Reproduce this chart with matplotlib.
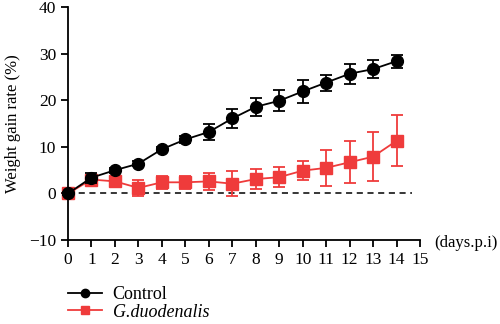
import matplotlib
matplotlib.use("Agg")
import matplotlib.pyplot as plt
from matplotlib.lines import Line2D
from matplotlib.font_manager import FontProperties

plt.rcParams['font.family'] = ['Liberation Serif', 'DejaVu Serif']

days = list(range(15))
control_mean = [0.0, 3.4, 5.0, 6.4, 9.5, 11.6, 13.2, 16.1, 18.6, 19.9, 21.9, 23.8, 25.7, 26.7, 28.4]
control_err = [0.3, 1.1, 0.5, 0.5, 0.5, 0.7, 1.7, 2.0, 2.0, 2.3, 2.4, 1.7, 2.1, 2.0, 1.4]
giardia_mean = [0.0, 3.0, 2.6, 1.2, 2.4, 2.4, 2.6, 2.1, 3.1, 3.5, 4.9, 5.5, 6.7, 7.9, 11.3]
giardia_err = [0.3, 0.5, 0.5, 1.8, 1.4, 1.4, 1.9, 2.7, 2.2, 2.2, 2.1, 3.8, 4.5, 5.2, 5.5]

red = '#ef3b3b'

fig = plt.figure(figsize=(5.0, 3.24), dpi=100)
ax = fig.add_axes([0.136, 0.259, 0.704, 0.719])

ax.plot([0, 14.65], [0, 0], ls=(0, (4, 3)), color='black', lw=1.1, zorder=1)

ax.errorbar(days, giardia_mean, yerr=giardia_err, color=red, ecolor=red,
            marker='s', markersize=8, lw=1.3, elinewidth=1.3, capsize=4.5,
            capthick=1.3, zorder=2, clip_on=False)
ax.errorbar(days, control_mean, yerr=control_err, color='black', ecolor='black',
            marker='o', markersize=8.5, lw=1.3, elinewidth=1.3, capsize=4.5,
            capthick=1.3, zorder=3, clip_on=False)

ax.set_xlim(0, 15)
ax.set_ylim(-10, 40)
ax.set_xticks(range(0, 16))
ax.set_yticks([-10, 0, 10, 20, 30, 40])
ax.set_yticklabels(['\u221210', '0', '10', '20', '30', '40'])
ax.tick_params(labelsize=12.5, width=1.3, length=5, direction='out', color='black')
ax.spines['top'].set_visible(False)
ax.spines['right'].set_visible(False)
ax.spines['left'].set_linewidth(1.3)
ax.spines['bottom'].set_linewidth(1.3)
ax.set_ylabel('Weight gain rate (%)', fontsize=12, labelpad=6)

ax.text(15.62, -10.6, '(days.p.i)', fontsize=12, ha='left', va='center',
        clip_on=False)

handles = [
    Line2D([], [], color='black', marker='o', markersize=6, lw=1.3),
    Line2D([], [], color=red, marker='s', markersize=6, lw=1.3),
]
leg = fig.legend(handles, ['Control', 'G.duodenalis'],
                 loc='upper left', bbox_to_anchor=(0.135, 0.116), frameon=False,
                 fontsize=13, handlelength=1.9, handletextpad=0.6,
                 labelspacing=0.02, borderaxespad=0, borderpad=0)
leg.get_texts()[1].set_fontproperties(
    FontProperties(family=['Liberation Serif', 'DejaVu Serif'], style='italic', size=13))

fig.savefig('out.png', dpi=100)
